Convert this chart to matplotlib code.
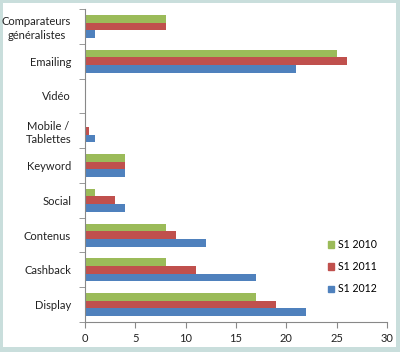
import matplotlib
matplotlib.use("Agg")
import matplotlib.pyplot as plt
from matplotlib.patches import Rectangle, Patch
import numpy as np

categories = ["Comparateurs\ngénéralistes", "Emailing", "Vidéo", "Mobile /\nTablettes",
              "Keyword", "Social", "Contenus", "Cashback", "Display"]
s1_2010 = [8, 25, 0, 0, 4, 1, 8, 8, 17]
s1_2011 = [8, 26, 0, 0.4, 4, 3, 9, 11, 19]
s1_2012 = [1, 21, 0, 1, 4, 4, 12, 17, 22]
series_labels = ["S1 2010", "S1 2011", "S1 2012"]
xticks = [0, 5, 10, 15, 20, 25, 30]

green = "#9BBB59"
red = "#C0504D"
blue = "#4F81BD"

plt.rcParams['font.family'] = ['Lato', 'DejaVu Sans']

fig = plt.figure(figsize=(4.0, 3.52), dpi=100)
fig.patch.set_facecolor("#C9DEDC")
fig.patches.append(Rectangle((3/400, 5/352), 393/400, 344/352, transform=fig.transFigure,
                             facecolor="white", edgecolor="none", zorder=-1))

ax = fig.add_axes([85/400, 1-322/352, 302/400, 313/352])
ax.set_zorder(2)
ax.set_facecolor("none")
n = len(categories)
y = np.arange(n)[::-1].astype(float)
h = 0.22
ax.barh(y + h, s1_2010, height=h, color=green, label=series_labels[0])
ax.barh(y, s1_2011, height=h, color=red, label=series_labels[1])
ax.barh(y - h, s1_2012, height=h, color=blue, label=series_labels[2])

ax.set_xlim(0, 30)
ax.set_ylim(-0.5, n - 0.5)
ax.set_xticks(xticks)
ax.set_xticklabels([str(t) for t in xticks], fontsize=8, color="#222222")
ax.set_yticks(y)
ax.set_yticklabels(categories, fontsize=8, color="#222222", linespacing=1.3)
for lab in ax.get_yticklabels():
    lab.set_multialignment("center")
ax.set_yticks(np.arange(n + 1) - 0.5, minor=True)
ax.tick_params(axis='y', which='major', length=0, pad=10)
ax.tick_params(axis='y', which='minor', length=4, color="#888888", direction='out')
ax.tick_params(axis='x', length=4, color="#888888", direction='out', pad=4)
for s in ["top", "right"]:
    ax.spines[s].set_visible(False)
for s in ["left", "bottom"]:
    ax.spines[s].set_color("#888888")
    ax.spines[s].set_linewidth(0.8)

handles = [Patch(color=green), Patch(color=red), Patch(color=blue)]
leg = fig.legend(handles, series_labels, loc="upper left", bbox_to_anchor=(323/400, 1-234/352),
                 frameon=False, fontsize=7.6, handlelength=0.55, handleheight=0.55,
                 handletextpad=0.4, labelspacing=1.05, borderpad=0)
leg.set_zorder(3)

fig.savefig("out.png", dpi=100, facecolor=fig.get_facecolor())
